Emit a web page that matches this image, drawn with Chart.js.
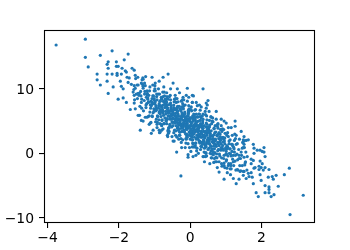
<!DOCTYPE html>
<html><head><meta charset="utf-8">
<script src="https://cdn.jsdelivr.net/npm/chart.js@4"></script>
<style>html,body{margin:0;padding:0;background:#fff}#wrap{width:350px;height:250px}</style>
</head><body><div id="wrap"><canvas id="c" width="350" height="250"></canvas></div>
<script>
// ---- data (feature value x, label y) ----
const coreX = [
-1.58,-1.56,-1.53,-1.51,-1.57,-1.54,
-1.48,-1.46,-1.43,-1.41,-1.47,-1.44,-1.42,
-1.39,-1.37,-1.34,-1.31,-1.38,-1.36,-1.33,-1.32,
-1.29,-1.27,-1.24,-1.21,-1.28,-1.26,-1.23,-1.22,-1.25,
-1.19,-1.17,-1.14,-1.11,-1.18,-1.16,-1.13,-1.12,-1.15,-1.20,-1.10,
-1.09,-1.07,-1.04,-1.01,-1.08,-1.06,-1.03,-1.02,-1.05,-1.10,-1.00,-1.06,
-0.99,-0.97,-0.94,-0.91,-0.98,-0.96,-0.93,-0.92,-0.95,-0.90,-0.99,-0.93,-0.96,
-0.89,-0.87,-0.84,-0.81,-0.88,-0.86,-0.83,-0.82,-0.85,-0.80,-0.89,-0.83,-0.86,-0.81,
-0.79,-0.77,-0.74,-0.71,-0.78,-0.76,-0.73,-0.72,-0.75,-0.70,-0.79,-0.73,-0.76,-0.71,-0.74,-0.77,
-0.69,-0.67,-0.64,-0.61,-0.68,-0.66,-0.63,-0.62,-0.65,-0.60,-0.69,-0.63,-0.66,-0.61,-0.64,-0.67,-0.62,
-0.59,-0.57,-0.54,-0.51,-0.58,-0.56,-0.53,-0.52,-0.55,-0.50,-0.59,-0.53,-0.56,-0.51,-0.54,-0.57,-0.52,-0.55,
-0.49,-0.47,-0.44,-0.41,-0.48,-0.46,-0.43,-0.42,-0.45,-0.40,-0.49,-0.43,-0.46,-0.41,-0.44,-0.47,-0.42,-0.45,-0.48,
-0.39,-0.37,-0.34,-0.31,-0.38,-0.36,-0.33,-0.32,-0.35,-0.30,-0.39,-0.33,-0.36,-0.31,-0.34,-0.37,-0.32,-0.35,-0.38,-0.30,
-0.29,-0.27,-0.24,-0.21,-0.28,-0.26,-0.23,-0.22,-0.25,-0.20,-0.29,-0.23,-0.26,-0.21,-0.24,-0.27,-0.22,-0.25,-0.28,-0.20,-0.24,
-0.19,-0.17,-0.14,-0.11,-0.18,-0.16,-0.13,-0.12,-0.15,-0.10,-0.19,-0.13,-0.16,-0.11,-0.14,-0.17,-0.12,-0.15,-0.18,-0.10,-0.14,-0.16,
-0.09,-0.07,-0.04,-0.01,-0.08,-0.06,-0.03,-0.02,-0.05,0.00,-0.09,-0.03,-0.06,-0.01,-0.04,-0.07,-0.02,-0.05,-0.08,0.00,-0.04,-0.06,
0.01,0.03,0.06,0.09,0.02,0.04,0.07,0.08,0.05,0.10,0.01,0.07,0.04,0.09,0.06,0.03,0.08,0.05,0.02,0.10,0.06,0.04,
0.11,0.13,0.16,0.19,0.12,0.14,0.17,0.18,0.15,0.20,0.11,0.17,0.14,0.19,0.16,0.13,0.18,0.15,0.12,0.20,0.16,0.14,
0.21,0.23,0.26,0.29,0.22,0.24,0.27,0.28,0.25,0.30,0.21,0.27,0.24,0.29,0.26,0.23,0.28,0.25,0.22,0.30,0.26,
0.31,0.33,0.36,0.39,0.32,0.34,0.37,0.38,0.35,0.40,0.31,0.37,0.34,0.39,0.36,0.33,0.38,0.35,0.32,0.40,
0.41,0.43,0.46,0.49,0.42,0.44,0.47,0.48,0.45,0.50,0.41,0.47,0.44,0.49,0.46,0.43,0.48,0.45,0.42,
0.51,0.53,0.56,0.59,0.52,0.54,0.57,0.58,0.55,0.60,0.51,0.57,0.54,0.59,0.56,0.53,0.58,0.55,
0.61,0.63,0.66,0.69,0.62,0.64,0.67,0.68,0.65,0.70,0.61,0.67,0.64,0.69,0.66,0.63,0.68,
0.71,0.73,0.76,0.79,0.72,0.74,0.77,0.78,0.75,0.80,0.71,0.77,0.74,0.79,0.76,0.73,
0.81,0.83,0.86,0.89,0.82,0.84,0.87,0.88,0.85,0.90,0.81,0.87,0.84,0.89,
0.91,0.93,0.96,0.99,0.92,0.94,0.97,0.98,0.95,1.00,0.91,0.97,0.94,
1.01,1.03,1.06,1.09,1.02,1.04,1.07,1.08,1.05,1.10,1.03,1.07,
1.11,1.13,1.16,1.19,1.12,1.14,1.17,1.18,1.15,1.20,1.13,
1.21,1.23,1.26,1.29,1.22,1.24,1.27,1.28,1.25,
1.31,1.33,1.36,1.39,1.32,1.34,1.37,1.38,
1.41,1.43,1.46,1.49,1.42,1.44,1.47,
1.51,1.53,1.56,1.59,1.52,1.55
];
const coreY = [
9.9,8.3,11.6,9.2,10.5,6.9,
8.5,10.6,9.3,7.3,11.8,9.0,5.9,
9.6,7.9,10.7,6.6,8.9,8.4,11.7,10.1,
8.2,9.6,7.1,9.1,10.9,5.6,8.7,7.7,11.9,
8.6,7.9,9.7,7.0,5.7,9.0,10.3,7.5,4.5,9.3,8.1,
7.4,8.5,6.3,9.7,8.0,5.7,8.9,6.9,10.6,4.8,8.2,7.7,
7.7,6.6,8.8,5.7,9.7,7.2,8.3,4.8,6.9,9.2,10.5,4.0,7.4,
7.0,7.7,6.1,8.4,5.2,9.2,7.3,6.5,8.1,4.3,10.0,6.8,3.2,8.7,
7.2,6.3,8.0,5.5,6.8,8.8,4.6,7.6,5.9,8.4,5.1,9.5,3.8,7.1,10.3,6.6,
6.1,7.3,5.3,6.5,8.1,4.6,7.0,5.8,8.8,3.9,7.6,6.3,9.4,3.1,6.8,5.0,8.4,
6.3,5.7,7.1,4.9,7.6,5.3,6.6,4.1,8.3,6.0,3.4,7.4,9.0,2.6,6.8,4.5,6.1,10.0,
5.5,6.2,4.8,6.8,4.3,7.5,5.8,5.2,8.0,3.5,6.5,4.7,7.1,2.8,8.4,5.4,9.0,1.9,6.0,
5.5,4.8,6.1,4.4,6.7,3.9,5.8,5.2,7.3,3.3,7.9,4.6,6.4,2.8,5.4,8.5,2.2,4.1,7.0,9.4,
4.7,5.4,3.9,6.0,5.0,6.6,3.4,5.7,4.4,7.2,2.8,6.3,2.3,7.7,5.3,4.6,8.3,1.7,6.9,4.1,0.9,
4.7,4.4,5.5,3.8,5.9,3.3,5.2,4.1,6.4,2.7,6.9,4.5,5.7,2.2,7.5,3.6,1.6,5.0,8.3,3.0,0.9,6.1,
4.8,3.9,5.3,3.3,4.3,5.8,2.8,5.0,6.4,2.2,3.7,6.9,1.5,5.5,7.4,4.1,0.9,6.2,4.6,3.1,8.7,-0.2,
3.8,4.6,3.2,5.0,2.7,4.2,5.6,3.5,2.1,6.1,4.9,1.6,6.6,3.9,1.0,7.2,5.3,3.0,0.3,4.4,7.9,3.4,
4.0,3.3,4.8,2.8,3.7,5.2,2.2,4.4,1.6,5.7,3.0,6.1,1.0,4.9,3.5,6.7,0.4,4.2,2.5,7.4,-0.3,5.5,
3.3,3.9,2.7,4.6,2.2,4.2,1.6,5.1,3.5,1.1,5.6,3.0,6.1,0.6,4.4,0.0,6.7,1.9,3.7,2.5,7.5,
3.2,2.5,3.9,1.9,4.4,1.4,3.4,2.8,5.0,0.8,5.5,2.1,4.1,0.2,6.1,3.0,-0.5,4.7,1.7,-1.3,
2.4,3.3,1.7,3.6,1.2,4.1,2.8,2.1,4.7,0.6,2.6,5.2,0.0,3.8,5.8,-0.5,3.1,1.4,6.5,
2.4,1.9,3.1,1.1,3.6,1.5,2.7,0.4,4.4,-0.1,3.9,2.2,5.1,-0.7,2.9,0.8,5.7,-1.6,
1.8,2.7,1.1,3.2,0.4,2.3,3.8,1.5,-0.2,4.3,-0.7,2.9,4.9,1.9,-1.4,5.5,0.7,
2.0,1.1,2.7,0.6,3.3,-0.1,1.7,3.9,-0.7,2.3,1.4,4.5,-1.3,3.0,-2.2,5.3,
1.2,1.8,0.5,2.4,-0.1,3.0,1.5,-0.7,3.7,0.8,-1.3,4.3,2.2,-2.0,
1.2,0.5,1.9,-0.2,2.5,-0.8,1.5,3.1,-1.5,0.9,3.8,-2.2,2.2,
0.3,1.2,-0.4,1.9,-1.0,0.7,2.6,-1.6,3.2,0.0,-2.3,4.0,
0.7,-0.1,1.4,-0.9,2.1,-1.6,0.3,2.8,-2.4,1.1,-3.3,
-0.3,0.7,-1.2,1.4,-1.9,0.2,2.3,-2.6,3.0,
-0.1,-1.0,0.6,-1.9,1.5,-2.6,-0.3,2.2,
-0.8,0.2,-1.9,0.9,-2.7,-0.3,1.7,
-0.6,-1.8,0.2,-2.6,0.9,-1.3
];
const denseX = [
-1.28,-1.24,-1.21,-1.17,-1.13,-1.26,-1.19,-1.15,
-1.08,-1.05,-1.02,-0.98,-0.94,-1.07,-1.03,-0.99,-0.95,-0.92,-1.01,-0.97,
-0.88,-0.86,-0.84,-0.82,-0.80,-0.78,-0.76,-0.74,-0.72,-0.87,-0.83,-0.79,-0.75,-0.81,-0.77,-0.85,
-0.69,-0.67,-0.65,-0.63,-0.61,-0.59,-0.57,-0.55,-0.53,-0.51,-0.68,-0.64,-0.60,-0.56,-0.52,-0.66,-0.62,-0.58,-0.54,-0.50,
-0.49,-0.47,-0.45,-0.43,-0.41,-0.39,-0.37,-0.35,-0.33,-0.31,-0.48,-0.44,-0.40,-0.36,-0.32,-0.46,-0.42,-0.38,-0.34,-0.30,-0.41,-0.37,
-0.29,-0.27,-0.25,-0.23,-0.21,-0.19,-0.17,-0.15,-0.13,-0.11,-0.28,-0.24,-0.20,-0.16,-0.12,-0.26,-0.22,-0.18,-0.14,-0.10,-0.21,-0.17,-0.25,-0.13,
-0.09,-0.07,-0.05,-0.03,-0.01,0.01,0.03,0.05,0.07,0.09,-0.08,-0.04,0.00,0.04,0.08,-0.06,-0.02,0.02,0.06,0.10,-0.01,0.03,-0.05,0.07,
0.11,0.13,0.15,0.17,0.19,0.21,0.23,0.25,0.27,0.29,0.12,0.16,0.20,0.24,0.28,0.14,0.18,0.22,0.26,0.30,0.19,0.23,0.15,0.27,
0.31,0.33,0.35,0.37,0.39,0.41,0.43,0.45,0.47,0.49,0.32,0.36,0.40,0.44,0.48,0.34,0.38,0.42,0.46,0.50,0.39,0.43,
0.51,0.53,0.55,0.57,0.59,0.61,0.63,0.65,0.67,0.69,0.52,0.56,0.60,0.64,0.68,0.54,0.58,0.62,0.66,0.70,
0.71,0.73,0.75,0.77,0.79,0.81,0.83,0.85,0.87,0.89,0.72,0.76,0.80,0.84,0.88,0.78,
0.91,0.93,0.95,0.97,0.99,1.01,1.03,1.05,1.07,1.09,0.94,1.02,
1.12,1.15,1.18,1.21,1.24,1.27,1.14,1.22
];
const denseY = [
9.2,7.5,9.7,8.0,6.4,10.5,8.4,5.8,
7.6,8.9,6.5,8.0,9.2,5.8,7.7,10.0,6.7,5.8,8.5,4.9,
7.4,6.5,8.1,5.7,8.5,6.8,7.5,4.6,8.9,6.3,7.4,5.2,8.1,6.6,9.5,4.6,
6.5,7.3,5.4,7.5,5.8,6.5,4.3,7.8,5.8,6.8,5.1,8.5,4.0,6.6,5.3,7.9,3.6,8.8,6.0,4.8,
6.2,5.4,6.8,4.9,6.2,4.3,7.0,5.3,3.6,7.3,6.7,3.6,5.8,7.2,4.7,3.2,8.0,5.2,6.6,3.8,8.5,2.5,
5.0,5.7,4.2,6.0,4.4,5.1,3.4,6.2,4.5,5.4,3.3,7.2,4.2,5.1,2.3,6.8,3.9,7.4,4.4,5.7,2.1,4.8,8.1,3.0,
5.0,4.1,5.3,3.3,4.3,5.5,3.5,2.5,5.8,4.2,2.5,6.4,3.4,4.8,1.5,6.0,4.1,6.8,2.8,1.0,5.2,3.7,6.7,2.1,
3.4,4.5,3.6,4.7,2.4,3.9,5.0,2.7,1.7,4.1,5.8,1.6,3.6,3.0,5.7,1.2,4.9,2.5,6.1,3.0,0.8,4.0,6.8,1.9,
3.4,2.6,3.8,1.8,4.3,2.5,3.2,1.0,4.5,1.7,1.0,5.3,2.8,0.1,3.7,5.8,1.5,3.4,-0.4,4.1,2.8,6.0,
2.3,3.3,1.4,2.6,3.5,0.7,2.7,1.6,3.9,0.1,3.4,0.0,4.6,1.9,-0.8,4.1,1.1,5.0,2.2,-1.3,
2.2,1.1,2.8,0.4,1.5,3.2,-0.4,2.0,0.9,3.4,-0.6,4.2,0.6,2.6,-1.6,4.6,
0.6,1.8,-0.3,2.4,0.7,-1.2,2.8,1.0,-1.9,1.5,3.7,-0.1,
0.7,-0.4,1.4,-1.3,2.0,-0.3,-1.9,0.9
];
const edgeX = [
-3.76,-2.94,-2.94,-2.86,-2.52,-2.19,-1.74,-2.61,-2.61,-2.52,
-2.33,-2.33,-2.30,-2.33,-2.30,-2.30,-2.16,-2.19,-2.07,-2.07,
-2.02,-2.05,-2.05,-1.85,-1.82,-1.79,-1.91,-1.96,-1.88,-2.02,
-1.88,-1.77,-1.71,-1.74,-1.65,-1.63,-1.79,-1.68,-1.46,-1.93,
-1.57,-1.54,-1.35,-1.32,-1.49,-1.46,-1.57,-1.57,-1.36,-1.40,
-1.37,-1.32,-1.12,-1.09,-1.04,-0.87,-0.84,-0.93,-0.81,-0.64,
-0.62,-0.48,-1.21,-0.95,-0.38,-0.26,-1.93,-1.60,-1.54,-1.37,
-1.32,-1.07,-0.98,-0.87,-0.76,-0.62,-0.48,-0.36,-0.08,0.36,
-0.20,-0.11,0.06,0.09,0.06,0.17,0.50,0.45,0.73,0.53,
0.45,0.31,0.59,-0.08,-0.34,0.48,0.87,1.01,1.15,1.26,
1.29,1.49,1.63,1.46,0.87,0.64,0.36,0.08,-0.06,-0.63,-0.80,
2.78,2.64,3.17,2.80,2.47,2.41,2.30,2.33,2.19,2.35,
2.27,2.21,2.21,2.21,2.10,2.10,1.91,1.85,1.99,1.77,
1.74,1.96,2.05,2.21,1.99,1.93,1.79,1.71,1.37,1.29,
0.95,1.57,1.65,1.49,1.49,1.40,1.51,1.77,1.79,1.88,
1.96,2.10,2.07,1.77,1.71,1.60,1.51,1.51,1.43,1.57,
1.96,2.02,2.10,1.82,1.32,1.12,0.95,0.95,1.26,1.51,
2.02,2.07,1.79,1.37,1.54,1.71,1.93,1.63,0.81,1.04,1.21
];
const edgeY = [
16.8,17.7,14.9,13.4,15.2,15.9,15.4,12.3,11.4,10.6,
12.3,11.2,14.2,13.8,13.2,9.3,10.3,12.3,14.2,13.5,
13.5,12.4,12.1,14.5,12.8,12.6,13.2,11.2,10.0,8.4,
8.6,11.8,11.7,11.0,10.7,13.2,7.9,6.8,5.9,10.4,
12.9,12.1,11.4,10.4,10.6,9.3,9.0,7.8,7.0,3.6,
5.1,5.0,4.7,3.1,3.6,3.6,3.3,4.5,4.5,2.8,
3.4,1.9,5.6,5.3,0.2,-3.5,12.3,9.5,10.1,10.9,
11.5,11.8,10.9,11.2,11.8,12.3,10.9,10.0,10.1,10.0,
8.7,9.0,9.0,8.9,7.9,7.9,8.2,7.8,6.5,6.5,
7.0,7.2,5.6,8.1,8.0,7.5,5.3,4.7,4.0,5.0,
2.8,2.1,2.1,0.8,3.7,0.2,-0.5,-0.5,-0.6,2.6,3.6,
-2.3,-3.3,-6.5,-9.5,-5.1,-3.4,-3.6,-4.0,-3.7,-6.4,
-6.7,-6.1,-5.6,-5.2,-6.1,-5.0,-6.7,-6.1,-4.2,-4.7,
-3.7,-3.3,-2.6,-2.5,-2.2,-2.0,-2.3,-3.0,-4.0,-4.7,
-4.0,-3.9,-3.6,-3.4,-2.8,-2.8,-2.8,1.4,0.8,0.5,
0.5,-0.5,0.2,-1.1,-0.9,-0.5,1.4,2.6,3.4,2.0,
-1.2,-1.6,-2.2,-2.2,-2.5,-2.4,-1.9,5.0,4.2,1.9,
0.3,0.9,0.0,-0.8,-1.5,-1.6,-2.5,-3.1,-2.9,-3.0,-3.9
];
const xTicks = [-4, -2, 0, 2];
const yTicks = [-10, 0, 10];

const xValues = coreX.concat(denseX, edgeX);
const yValues = coreY.concat(denseY, edgeY);
const points = xValues.map((x, i) => ({x: x, y: yValues[i]}));

const fmt = v => (v < 0 ? '\u2212' + Math.abs(v) : String(v));
const FONT = {family: 'DejaVu Sans', size: 13.9};

const frame = {
  id: 'frame',
  afterDraw(chart) {
    const a = chart.chartArea, ctx = chart.ctx;
    ctx.save();
    ctx.strokeStyle = '#000';
    ctx.lineWidth = 1.1;
    ctx.strokeRect(Math.round(a.left) + 0.5, Math.round(a.top) + 0.5,
                   Math.round(a.right - a.left) - 1, Math.round(a.bottom - a.top) - 1);
    ctx.restore();
  }
};

new Chart(document.getElementById('c'), {
  type: 'scatter',
  data: {datasets: [{
    data: points,
    backgroundColor: '#1f77b4',
    borderWidth: 0,
    pointRadius: 1.6,
    pointHoverRadius: 1.6
  }]},
  options: {
    responsive: false,
    animation: false,
    events: [],
    layout: {padding: {top: 30, right: 35, left: 0, bottom: 0}},
    plugins: {legend: {display: false}, tooltip: {enabled: false}},
    scales: {
      x: {
        type: 'linear', min: -4.10, max: 3.50,
        afterBuildTicks: s => { s.ticks = xTicks.map(v => ({value: v})); },
        afterFit: s => { s.height = 27; },
        grid: {display: true, drawOnChartArea: false, drawTicks: true, tickLength: 5, color: '#000', lineWidth: 1.1},
        border: {display: false},
        ticks: {color: '#000', font: FONT, padding: 2, maxRotation: 0, autoSkip: false, callback: v => fmt(v)}
      },
      y: {
        type: 'linear', min: -10.8, max: 19.13,
        afterBuildTicks: s => { s.ticks = yTicks.map(v => ({value: v})); },
        afterFit: s => { s.width = 44; },
        grid: {display: true, drawOnChartArea: false, drawTicks: true, tickLength: 5, color: '#000', lineWidth: 1.1},
        border: {display: false},
        ticks: {color: '#000', font: FONT, padding: 5, labelOffset: 1.5, autoSkip: false, callback: v => fmt(v)}
      }
    }
  },
  plugins: [frame]
});
</script>
</body></html>
